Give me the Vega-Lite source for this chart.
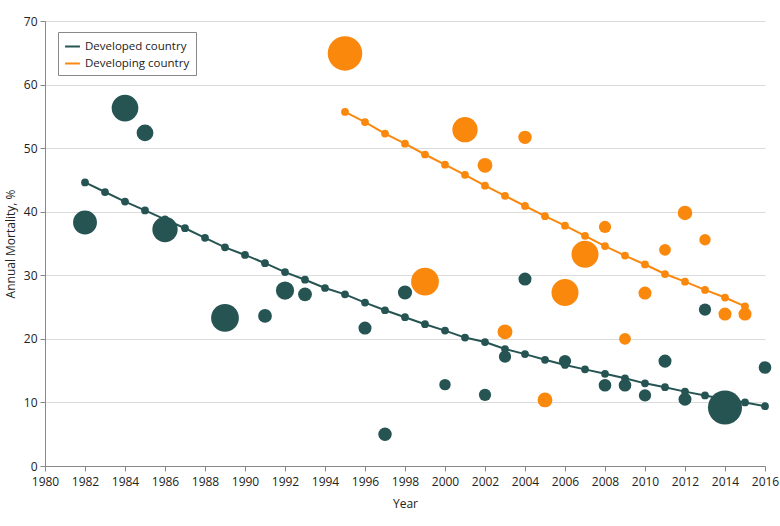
{
  "$schema": "https://vega.github.io/schema/vega-lite/v6.json",
  "width": 720,
  "height": 445,
  "autosize": "none",
  "padding": {"left": 45, "top": 21, "right": 15, "bottom": 60},
  "background": "white",
  "config": {
    "view": {"stroke": null},
    "font": "Open Sans",
    "axis": {
      "labelFont": "Open Sans",
      "titleFont": "Open Sans",
      "labelFontSize": 12,
      "titleFontSize": 12,
      "titleFontWeight": "normal",
      "labelColor": "#222",
      "titleColor": "#222",
      "domainColor": "#888",
      "tickColor": "#888",
      "tickSize": 5,
      "labelPadding": 3,
      "labelOverlap": false,
      "labelFlush": false,
      "gridColor": "#dcdcdc",
      "gridWidth": 1
    },
    "legend": {
      "labelFont": "Open Sans",
      "labelFontSize": 11.5,
      "labelColor": "#222"
    }
  },
  "datasets": {
    "trend": [
      {"series": "Developed country", "year": 1982, "mortality": 44.6},
      {"series": "Developed country", "year": 1983, "mortality": 43.1},
      {"series": "Developed country", "year": 1984, "mortality": 41.6},
      {"series": "Developed country", "year": 1985, "mortality": 40.2},
      {"series": "Developed country", "year": 1986, "mortality": 38.8},
      {"series": "Developed country", "year": 1987, "mortality": 37.4},
      {"series": "Developed country", "year": 1988, "mortality": 35.9},
      {"series": "Developed country", "year": 1989, "mortality": 34.4},
      {"series": "Developed country", "year": 1990, "mortality": 33.2},
      {"series": "Developed country", "year": 1991, "mortality": 31.9},
      {"series": "Developed country", "year": 1992, "mortality": 30.5},
      {"series": "Developed country", "year": 1993, "mortality": 29.3},
      {"series": "Developed country", "year": 1994, "mortality": 28.0},
      {"series": "Developed country", "year": 1995, "mortality": 27.0},
      {"series": "Developed country", "year": 1996, "mortality": 25.7},
      {"series": "Developed country", "year": 1997, "mortality": 24.5},
      {"series": "Developed country", "year": 1998, "mortality": 23.4},
      {"series": "Developed country", "year": 1999, "mortality": 22.3},
      {"series": "Developed country", "year": 2000, "mortality": 21.3},
      {"series": "Developed country", "year": 2001, "mortality": 20.2},
      {"series": "Developed country", "year": 2002, "mortality": 19.5},
      {"series": "Developed country", "year": 2003, "mortality": 18.4},
      {"series": "Developed country", "year": 2004, "mortality": 17.6},
      {"series": "Developed country", "year": 2005, "mortality": 16.7},
      {"series": "Developed country", "year": 2006, "mortality": 15.9},
      {"series": "Developed country", "year": 2007, "mortality": 15.2},
      {"series": "Developed country", "year": 2008, "mortality": 14.5},
      {"series": "Developed country", "year": 2009, "mortality": 13.8},
      {"series": "Developed country", "year": 2010, "mortality": 13.0},
      {"series": "Developed country", "year": 2011, "mortality": 12.4},
      {"series": "Developed country", "year": 2012, "mortality": 11.7},
      {"series": "Developed country", "year": 2013, "mortality": 11.1},
      {"series": "Developed country", "year": 2014, "mortality": 10.5},
      {"series": "Developed country", "year": 2015, "mortality": 10.0},
      {"series": "Developed country", "year": 2016, "mortality": 9.4},
      {"series": "Developing country", "year": 1995, "mortality": 55.7},
      {"series": "Developing country", "year": 1996, "mortality": 54.1},
      {"series": "Developing country", "year": 1997, "mortality": 52.3},
      {"series": "Developing country", "year": 1998, "mortality": 50.7},
      {"series": "Developing country", "year": 1999, "mortality": 49.0},
      {"series": "Developing country", "year": 2000, "mortality": 47.4},
      {"series": "Developing country", "year": 2001, "mortality": 45.8},
      {"series": "Developing country", "year": 2002, "mortality": 44.1},
      {"series": "Developing country", "year": 2003, "mortality": 42.5},
      {"series": "Developing country", "year": 2004, "mortality": 40.9},
      {"series": "Developing country", "year": 2005, "mortality": 39.3},
      {"series": "Developing country", "year": 2006, "mortality": 37.8},
      {"series": "Developing country", "year": 2007, "mortality": 36.2},
      {"series": "Developing country", "year": 2008, "mortality": 34.6},
      {"series": "Developing country", "year": 2009, "mortality": 33.1},
      {"series": "Developing country", "year": 2010, "mortality": 31.7},
      {"series": "Developing country", "year": 2011, "mortality": 30.2},
      {"series": "Developing country", "year": 2012, "mortality": 29.0},
      {"series": "Developing country", "year": 2013, "mortality": 27.7},
      {"series": "Developing country", "year": 2014, "mortality": 26.5},
      {"series": "Developing country", "year": 2015, "mortality": 25.1}
    ],
    "studies": [
      {"series": "Developed country", "year": 1982, "mortality": 38.3, "weight": 57},
      {"series": "Developed country", "year": 1984, "mortality": 56.3, "weight": 71},
      {"series": "Developed country", "year": 1985, "mortality": 52.4, "weight": 28},
      {"series": "Developed country", "year": 1986, "mortality": 37.2, "weight": 64},
      {"series": "Developed country", "year": 1989, "mortality": 23.3, "weight": 77},
      {"series": "Developed country", "year": 1991, "mortality": 23.6, "weight": 19},
      {"series": "Developed country", "year": 1992, "mortality": 27.6, "weight": 33},
      {"series": "Developed country", "year": 1993, "mortality": 27.0, "weight": 19},
      {"series": "Developed country", "year": 1996, "mortality": 21.7, "weight": 17},
      {"series": "Developed country", "year": 1997, "mortality": 5.0, "weight": 18},
      {"series": "Developed country", "year": 1998, "mortality": 27.3, "weight": 20},
      {"series": "Developed country", "year": 2000, "mortality": 12.8, "weight": 13},
      {"series": "Developed country", "year": 2002, "mortality": 11.2, "weight": 15},
      {"series": "Developed country", "year": 2003, "mortality": 17.2, "weight": 15},
      {"series": "Developed country", "year": 2004, "mortality": 29.4, "weight": 17},
      {"series": "Developed country", "year": 2006, "mortality": 16.5, "weight": 15},
      {"series": "Developed country", "year": 2008, "mortality": 12.7, "weight": 16},
      {"series": "Developed country", "year": 2009, "mortality": 12.7, "weight": 16},
      {"series": "Developed country", "year": 2010, "mortality": 11.1, "weight": 15},
      {"series": "Developed country", "year": 2011, "mortality": 16.5, "weight": 17},
      {"series": "Developed country", "year": 2012, "mortality": 10.5, "weight": 17},
      {"series": "Developed country", "year": 2013, "mortality": 24.6, "weight": 15},
      {"series": "Developed country", "year": 2014, "mortality": 9.2, "weight": 116},
      {"series": "Developed country", "year": 2016, "mortality": 15.5, "weight": 16},
      {"series": "Developing country", "year": 1995, "mortality": 64.9, "weight": 119},
      {"series": "Developing country", "year": 1999, "mortality": 29.0, "weight": 77},
      {"series": "Developing country", "year": 2001, "mortality": 52.9, "weight": 64},
      {"series": "Developing country", "year": 2002, "mortality": 47.3, "weight": 22},
      {"series": "Developing country", "year": 2003, "mortality": 21.1, "weight": 22},
      {"series": "Developing country", "year": 2004, "mortality": 51.7, "weight": 18},
      {"series": "Developing country", "year": 2005, "mortality": 10.4, "weight": 22},
      {"series": "Developing country", "year": 2006, "mortality": 27.3, "weight": 73},
      {"series": "Developing country", "year": 2007, "mortality": 33.3, "weight": 73},
      {"series": "Developing country", "year": 2008, "mortality": 37.6, "weight": 15},
      {"series": "Developing country", "year": 2009, "mortality": 20.0, "weight": 14},
      {"series": "Developing country", "year": 2010, "mortality": 27.2, "weight": 17},
      {"series": "Developing country", "year": 2011, "mortality": 34.0, "weight": 14},
      {"series": "Developing country", "year": 2012, "mortality": 39.8, "weight": 21},
      {"series": "Developing country", "year": 2013, "mortality": 35.6, "weight": 13},
      {"series": "Developing country", "year": 2014, "mortality": 23.9, "weight": 17},
      {"series": "Developing country", "year": 2015, "mortality": 23.9, "weight": 17}
    ]
  },
  "encoding": {
    "x": {
      "field": "year", "type": "quantitative",
      "scale": {"domain": [1980, 2016], "nice": false, "zero": false},
      "axis": {
        "title": "Year",
        "values": [1980,1982,1984,1986,1988,1990,1992,1994,1996,1998,2000,2002,2004,2006,2008,2010,2012,2014,2016],
        "format": "d",
        "grid": false,
        "labelOverlap": false,
        "labelFlush": false,
        "labelPadding": 5,
        "titlePadding": 11
      }
    },
    "y": {
      "field": "mortality", "type": "quantitative",
      "scale": {"domain": [0, 70], "nice": false},
      "axis": {
        "title": "Annual Mortality, %",
        "values": [0,10,20,30,40,50,60,70],
        "grid": true,
        "labelFlush": false,
        "titlePadding": 6
      }
    },
    "color": {
      "field": "series", "type": "nominal",
      "scale": {"domain": ["Developed country", "Developing country"], "range": ["#255453", "#FA880C"]},
      "legend": {
        "title": null,
        "orient": "none",
        "legendX": 13,
        "legendY": 11,
        "symbolType": "stroke",
        "symbolStrokeWidth": 2,
        "symbolSize": 220,
        "strokeColor": "#888",
        "fillColor": "white",
        "padding": 6,
        "rowPadding": 3,
        "labelOffset": 4
      }
    }
  },
  "layer": [
    {
      "data": {"name": "trend"},
      "mark": {"type": "line", "strokeWidth": 2}
    },
    {
      "data": {"name": "studies"},
      "mark": {"type": "circle", "opacity": 1},
      "encoding": {
        "size": {"field": "weight", "type": "quantitative", "scale": {"domain": [0, 120], "range": [0, 1200]}, "legend": null}
      }
    },
    {
      "data": {"name": "trend"},
      "mark": {"type": "circle", "opacity": 1, "size": 60}
    }
  ]
}
